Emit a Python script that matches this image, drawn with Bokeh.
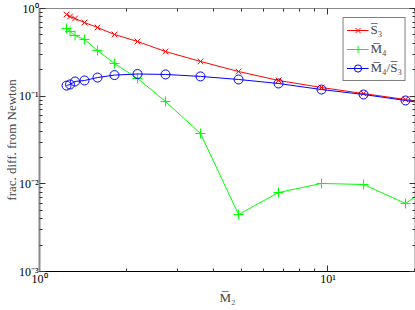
from bokeh.plotting import figure
from bokeh.models import LogAxis, CustomJSTickFormatter, Range1d, FixedTicker, CustomLabelingPolicy
from bokeh.embed import file_html
from bokeh.resources import INLINE

# data
m2 = [1.241, 1.276, 1.328, 1.432, 1.589, 1.820, 2.187, 2.735, 3.615, 4.90, 6.74, 9.50, 13.29, 18.58, 26.0]
s3 = [0.854, 0.810, 0.769, 0.692, 0.607, 0.505, 0.420, 0.323, 0.249, 0.191, 0.151, 0.1256, 0.107, 0.0916, 0.078]
m4 = [0.591, 0.547, 0.492, 0.443, 0.332, 0.236, 0.159, 0.0869, 0.0375, 0.00447, 0.00796, 0.0101, 0.00983, 0.00597, 0.0128]
m4s3 = [0.132, 0.136, 0.147, 0.151, 0.163, 0.174, 0.179, 0.177, 0.168, 0.155, 0.1395, 0.119, 0.1045, 0.0893, 0.076]

x_major = [1, 10]
x_minor = [2, 3, 4, 5, 6, 7, 8, 9, 20]
y_major = [0.001, 0.01, 0.1, 1]
y_minor = [m * d for d in (0.001, 0.01, 0.1) for m in (2, 3, 4, 5, 6, 7, 8, 9)]

FONT = "Liberation Serif"

p = figure(x_axis_type="log", y_axis_type="log",
           x_range=Range1d(1, 20.12), y_range=Range1d(1e-3, 1),
           frame_width=376, frame_height=263,
           min_border_left=0, min_border_right=0, min_border_top=8, min_border_bottom=0,
           output_backend="svg", toolbar_location=None,
           background_fill_color="white", border_fill_color="white")
p.outline_line_color = None
p.xgrid.visible = False
p.ygrid.visible = False

fmt = CustomJSTickFormatter(code="""
const e = Math.round(Math.log10(tick));
const sup = {'-':'\u207b','0':'\u2070','1':'\u00b9','2':'\u00b2','3':'\u00b3','4':'\u2074','5':'\u2075','6':'\u2076','7':'\u2077','8':'\u2078','9':'\u2079'};
return '10' + String(e).split('').map(c => sup[c]).join('');
""")

no_labels = CustomLabelingPolicy(code="""
for (const i of indices) { indices.unset(i) }
return indices
""")

def style(ax, ticker, labels=True, color="black", width=1):
    ax.ticker = ticker
    ax.major_tick_in = 6
    ax.major_tick_out = 0
    ax.minor_tick_in = 3
    ax.minor_tick_out = 0
    ax.axis_line_color = color
    ax.axis_line_width = width
    ax.major_tick_line_color = "#333333"
    ax.minor_tick_line_color = "#333333"
    ax.formatter = fmt
    ax.major_label_text_font = FONT
    ax.major_label_text_color = "black"
    if labels:
        ax.major_label_text_font_size = "12px"
        ax.major_label_standoff = 2
        ax.axis_label_text_font = FONT
        ax.axis_label_text_font_size = "13px"
        ax.axis_label_text_font_style = "normal"
        ax.axis_label_standoff = 2
    else:
        ax.major_label_text_font_size = "1px"
        ax.major_label_policy = no_labels
        ax.major_label_standoff = 0

xt = FixedTicker(ticks=x_major, minor_ticks=x_minor)
yt = FixedTicker(ticks=y_major, minor_ticks=y_minor)

style(p.xaxis[0], xt, True, "black", 1)
style(p.yaxis[0], yt, True, "#888888", 2)
p.xaxis[0].axis_label = "M\u0305\u2082"
p.xaxis[0].major_label_standoff = 0
p.xaxis[0].axis_label_standoff = 1
p.yaxis[0].axis_label = "frac. diff. from Newton"
p.yaxis[0].axis_label_standoff = -3
p.yaxis[0].major_label_standoff = 1

top = LogAxis()
style(top, FixedTicker(ticks=x_major, minor_ticks=x_minor), False, "#888888", 1)
p.add_layout(top, "above")
right = LogAxis()
style(right, FixedTicker(ticks=y_major, minor_ticks=y_minor), False, "#888888", 2)
p.add_layout(right, "right")

p.line(m2, s3, color="#ff0000", line_width=1, legend_label="S\u0305\u2083")
p.scatter(m2, s3, marker="x", size=8, color="#ff0000", line_width=1, legend_label="S\u0305\u2083")
p.line(m2, m4, color="#00ff00", line_width=1, legend_label="M\u0305\u2084")
p.scatter(m2, m4, marker="cross", size=10, line_color="#00ff00", line_width=1, legend_label="M\u0305\u2084")
p.line(m2, m4s3, color="#0000ff", line_width=1, legend_label="M\u0305\u2084/S\u0305\u2083")
p.scatter(m2, m4s3, marker="circle", size=9, line_color="#0000ff", fill_color=None, line_width=1,
          legend_label="M\u0305\u2084/S\u0305\u2083")

lg = p.legend[0]
lg.location = "top_right"
lg.margin = 9
lg.padding = 3
lg.spacing = 1
lg.label_height = 18
lg.glyph_height = 18
lg.glyph_width = 22
lg.label_standoff = 2
lg.label_text_font = FONT
lg.label_text_font_size = "13px"
lg.border_line_color = "black"
lg.border_line_width = 1
lg.background_fill_alpha = 1

open("out.html", "w").write(file_html(p, INLINE))
